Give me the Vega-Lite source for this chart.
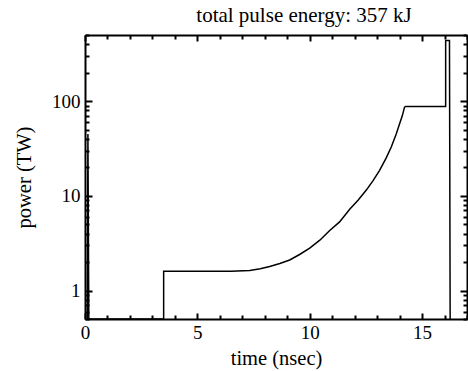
{
  "$schema": "https://vega.github.io/schema/vega-lite/v6.json",
  "autosize": "none",
  "width": 382,
  "height": 284,
  "padding": {"left": 85, "top": 35, "right": 1, "bottom": 52},
  "background": "white",
  "config": {
    "view": {"stroke": null},
    "font": "Liberation Serif",
    "axis": {"domainColor": "black", "domainWidth": 2, "labelFont": "Liberation Serif", "titleFont": "Liberation Serif", "labelFontSize": 19, "titleFontSize": 20.5, "titleFontWeight": "normal", "labelColor": "black", "titleColor": "black", "grid": false}
  },
  "title": {"text": "total pulse energy: 357 kJ", "font": "Liberation Serif", "fontSize": 21, "fontWeight": "normal", "color": "black", "dx": 28, "offset": 0},
  "data": {"values": [
    {"t": 0.1, "p": 0.5}, {"t": 0.13, "p": 45}, {"t": 0.17, "p": 0.5},
    {"t": 3.5, "p": 0.5}, {"t": 3.5, "p": 1.6}, {"t": 6.5, "p": 1.6}, {"t": 7.33, "p": 1.63},
    {"t": 7.8, "p": 1.7}, {"t": 8.22, "p": 1.79}, {"t": 8.67, "p": 1.93}, {"t": 9.11, "p": 2.1},
    {"t": 9.55, "p": 2.4}, {"t": 10.0, "p": 2.8}, {"t": 10.45, "p": 3.4}, {"t": 10.89, "p": 4.3},
    {"t": 11.33, "p": 5.3}, {"t": 11.78, "p": 7.2}, {"t": 12.15, "p": 9.0}, {"t": 12.52, "p": 11.5},
    {"t": 12.82, "p": 14.5}, {"t": 13.11, "p": 18.6}, {"t": 13.4, "p": 25}, {"t": 13.63, "p": 32.8},
    {"t": 13.85, "p": 45}, {"t": 14.0, "p": 57.8}, {"t": 14.12, "p": 70}, {"t": 14.22, "p": 86.5},
    {"t": 14.27, "p": 88}, {"t": 16.05, "p": 88}, {"t": 16.05, "p": 438}, {"t": 16.22, "p": 438},
    {"t": 16.25, "p": 0.5}
  ]},
  "layer": [
    {
      "mark": {"type": "line", "color": "black", "strokeWidth": 1.5, "clip": true, "interpolate": "linear"},
      "encoding": {
        "x": {"field": "t", "type": "quantitative", "scale": {"domain": [0, 17], "nice": false, "zero": false},
          "axis": {"orient": "bottom", "title": "time (nsec)", "values": [0,1,2,3,4,5,6,7,8,9,10,11,12,13,14,15,16,17],
            "labelExpr": "datum.value % 5 === 0 ? datum.label : ''",
            "ticks": true, "tickSize": {"condition": {"test": "datum.value % 5 === 0", "value": -6}, "value": -4},
            "tickColor": "black", "tickOpacity": 1, "tickWidth": 2, "tickOffset": 0, "zindex": 1,
            "labelPadding": 10, "titlePadding": 4, "labelFlush": false, "labelOverlap": false}},
        "y": {"field": "p", "type": "quantitative", "scale": {"type": "log", "domain": [0.5, 500], "nice": false},
          "axis": {"orient": "left", "title": "power (TW)", "values": [0.5,0.6,0.7,0.8,0.9,1,2,3,4,5,6,7,8,9,10,20,30,40,50,60,70,80,90,100,200,300,400,500],
            "labelExpr": "indexof([1,10,100], datum.value) >= 0 ? format(datum.value, 'd') : ''",
            "ticks": true, "tickSize": {"condition": {"test": "indexof([1,10,100], datum.value) >= 0", "value": -7}, "value": -4},
            "tickColor": "black", "tickOpacity": 1, "tickWidth": 2, "tickOffset": 0, "zindex": 1,
            "labelPadding": 12, "titlePadding": 17, "labelFlush": false, "labelOverlap": false}},
        "order": {"value": 0}
      }
    },
    {
      "mark": {"type": "line", "opacity": 0},
      "encoding": {
        "x": {"field": "t", "type": "quantitative",
          "axis": {"orient": "top", "title": null, "labels": false, "ticks": true, "values": [0,1,2,3,4,5,6,7,8,9,10,11,12,13,14,15,16,17],
            "tickSize": {"condition": {"test": "datum.value % 5 === 0", "value": -6}, "value": -4},
            "tickColor": "black", "tickOpacity": 1, "tickWidth": 2, "zindex": 1}},
        "y": {"field": "p", "type": "quantitative",
          "axis": {"orient": "right", "title": null, "labels": false, "ticks": true, "values": [0.5,0.6,0.7,0.8,0.9,1,2,3,4,5,6,7,8,9,10,20,30,40,50,60,70,80,90,100,200,300,400,500],
            "tickSize": {"condition": {"test": "indexof([1,10,100], datum.value) >= 0", "value": -7}, "value": -4},
            "tickColor": "black", "tickOpacity": 1, "tickWidth": 2, "zindex": 1}}
      }
    }
  ],
  "resolve": {"axis": {"x": "independent", "y": "independent"}}
}
